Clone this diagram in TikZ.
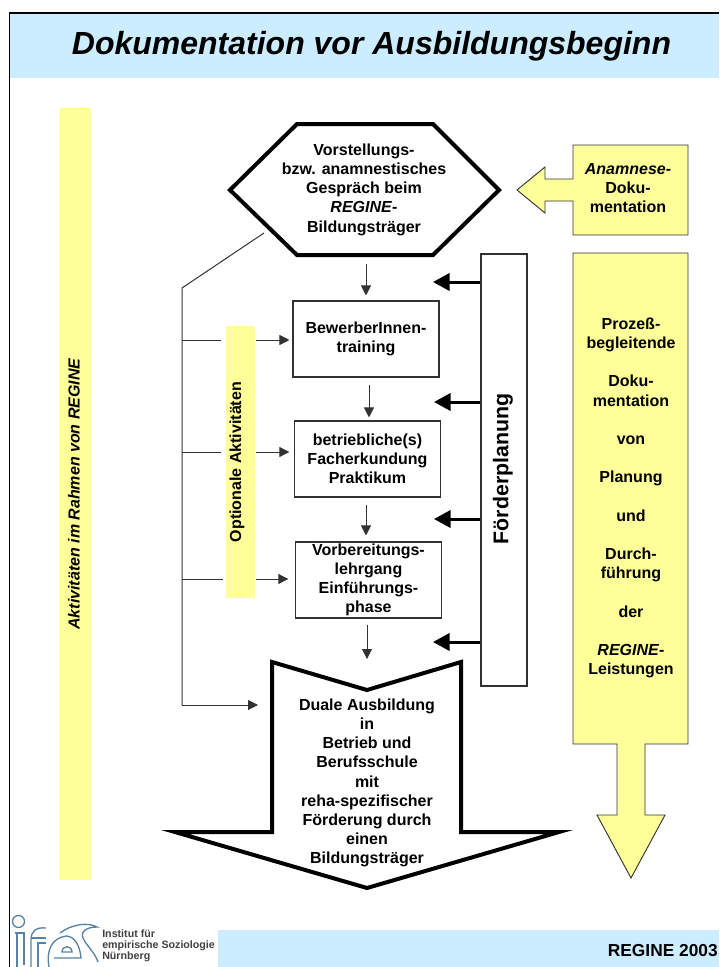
\documentclass[tikz,border=0pt]{standalone}
\usepackage{fontspec}
\setmainfont{Liberation Sans}
\usetikzlibrary{arrows.meta}

\definecolor{bandblue}{RGB}{204,236,255}
\definecolor{paleyellow}{RGB}{255,255,153}
\definecolor{logoblue}{RGB}{88,130,165}
\definecolor{linegray}{RGB}{50,50,50}

\tikzset{
    boxtext/.style={align=center, font=\fontsize{12}{14.4}\selectfont\bfseries, inner sep=0pt},
    stationbox/.style={boxtext, draw=linegray, line width=0.8pt, fill=white, minimum width=109.5pt, minimum height=57pt},
    yellowbar/.style={fill=paleyellow, inner sep=0pt},
    yellowshape/.style={draw=black!80, fill=paleyellow, line width=0.7pt, line join=miter},
    heavyshape/.style={draw=black, fill=white, line width=3pt, line join=miter, miter limit=10},
    flowline/.style={linegray, line width=0.75pt},
    flowarrow/.style={flowline, -{Triangle[length=7.5pt,width=7.5pt]}},
    planarrow/.style={black, line width=2.25pt, -{Triangle[length=12.5pt,width=13pt]}},
    logoline/.style={logoblue, line width=1pt}
}

\begin{document}
\begin{tikzpicture}[x=0.75pt,y=0.75pt,yscale=-1,xscale=1]
    \useasboundingbox (0,0) rectangle (719,967);

    % Bands and frame
    \fill [bandblue] (10,13) rectangle (719,78);
    \fill [bandblue] (218,930) rectangle (719,967);
    \draw [line width=1.2pt] (719,13) -- (9.5,13) -- (9.5,967);
    \node (title) at (371.5,46) [inner sep=0pt, font=\fontsize{24}{30}\selectfont\bfseries\itshape] {Dokumentation vor Ausbildungsbeginn};
    \node (year) [anchor=east, inner sep=0pt, font=\fontsize{13}{14}\selectfont\bfseries] at (718,951) {REGINE 2003};

    % Yellow bars
    \node (rahmenbar) at (75.5,494) [yellowbar, minimum width=23.25pt, minimum height=579pt] {};
    \node [rotate=90, inner sep=0pt, font=\fontsize{12}{14}\selectfont\bfseries\itshape] (rahmentext) at (74,494) {Aktivitäten im Rahmen von REGINE};
    \node (optionalbar) at (240,462) [yellowbar, minimum width=21.75pt, minimum height=204pt] {};
    \node [rotate=90, inner sep=0pt, font=\fontsize{12}{14}\selectfont\bfseries] (optionaltext) at (237,462) {Optionale Aktivitäten};

    % Hexagon
    \draw [heavyshape] (230,190) -- (297,124) -- (433,124) -- (499,190) -- (433,255) -- (297,255) -- cycle;
    \node (gespraech) at (364,189.5) [boxtext, minimum height=98.25pt] {Vorstellungs-\\bzw. anamnestisches\\Gespräch beim\\\textit{REGINE}-\\Bildungsträger};

    % Stations
    \node (training) at (366,339) [stationbox] {BewerberInnen-\\training};
    \node (praktikum) at (367.5,459) [stationbox] {betriebliche(s)\\Facherkundung\\Praktikum};
    \node (lehrgang) at (368.5,580) [stationbox] {Vorbereitungs-\\lehrgang\\Einführungs-\\phase};

    % Dual arrow
    \draw [heavyshape] (272,662) -- (367,690) -- (461,662) -- (461,832) -- (559,832) -- (367,888) -- (175,832) -- (272,832) -- cycle;
    \node (dual) at (367,783) [boxtext] {Duale Ausbildung\\in\\Betrieb und\\Berufsschule\\mit\\reha-spezifischer\\Förderung durch\\einen\\Bildungsträger};

    % Foerderplanung
    \node (foerder) at (504,470) [draw=linegray, fill=white, line width=1pt, minimum width=34.5pt, minimum height=324pt, inner sep=0pt] {};
    \node [rotate=90, inner sep=0pt, font=\fontsize{16}{18}\selectfont\bfseries] (foerdertext) at (503,469) {Förderplanung};

    % Anamnese callout
    \draw [yellowshape] (573,145) -- (688,145) -- (688,235) -- (573,235) -- (573,201) -- (545,201) -- (545,213) -- (517,190) -- (545,167) -- (545,179) -- (573,179) -- cycle;
    \node (anamnese) at (628,188) [boxtext] {\textit{Anamnese}-\\Doku-\\mentation};

    % Process arrow
    \draw [yellowshape] (573,253) -- (688,253) -- (688,744) -- (645,744) -- (645,815) -- (665,815) -- (631,878) -- (597,815) -- (617,815) -- (617,744) -- (573,744) -- cycle;
    \node (prozess) at (631,498) [boxtext] {Prozeß-\\begleitende\\~\\Doku-\\mentation\\~\\von\\~\\Planung\\~\\und\\~\\Durch-\\führung\\~\\der\\~\\\textit{REGINE}-\\Leistungen};

    % Connection
    \coordinate (gespraechout) at (264,233);
    \coordinate (buscorner) at (182,288);
    \coordinate (tapone) at (182,340);
    \coordinate (taptwo) at (182,452);
    \coordinate (tapthree) at (182,579);
    \coordinate (tapfour) at (182,705);
    \coordinate (dualin) at (272,705);
    \draw [flowline] (gespraechout) -- (buscorner) -- (tapfour);
    \draw [flowarrow, shorten >=10.5pt] (tapfour) -- (dualin);

    \draw [flowline, shorten >=3pt] (tapone) -- (tapone -| optionalbar.west);
    \draw [flowline, shorten >=3pt] (taptwo) -- (taptwo -| optionalbar.west);
    \draw [flowline, shorten >=2pt] (tapthree) -- (tapthree -| optionalbar.west);
    \draw [flowarrow, shorten <=1pt, shorten >=2.25pt] (tapone -| optionalbar.east) -- (tapone -| training.west);
    \draw [flowarrow, shorten <=1pt, shorten >=3.5pt] (taptwo -| optionalbar.east) -- (taptwo -| praktikum.west);
    \draw [flowarrow, shorten <=1pt, shorten >=5pt] (tapthree -| optionalbar.east) -- (tapthree -| lehrgang.west);

    \draw [flowarrow, shorten <=6.75pt, shorten >=3.75pt] (gespraech.south -| training.north) -- (training.north);
    \draw [flowarrow, shorten <=5.25pt, shorten >=2.25pt] (training.south) ++(3,0) -- (praktikum.north -| 369,0);
    \draw [flowarrow, shorten <=5.25pt, shorten >=4.5pt] (praktikum.south) ++(-1.5,0) -- (lehrgang.north -| 366,0);
    \draw [flowarrow, shorten <=4.5pt, shorten >=2.25pt] (lehrgang.south -| dual.north) -- (272,662 -| dual.north);

    \coordinate (planone) at (433,282);
    \coordinate (plantwo) at (434,402);
    \coordinate (planthree) at (434,519);
    \coordinate (planfour) at (433,642);
    \draw [planarrow] (foerder.west |- planone) -- (planone);
    \draw [planarrow] (foerder.west |- plantwo) -- (plantwo);
    \draw [planarrow] (foerder.west |- planthree) -- (planthree);
    \draw [planarrow] (foerder.west |- planfour) -- (planfour);

    % Logo
    \draw [logoline] (18.5,921.5) circle [radius=6];
    \draw [logoline] (15,933) -- (24,933) -- (24,965);
    \draw [logoline] (17,933) -- (17,967);
    \draw [logoline] (31,967) -- (31,940) .. controls (31,931) and (36,927) .. (46,928);
    \draw [logoline] (38,967) -- (38,943) -- (46,943);
    \draw [logoline] (31,938) -- (46,938);
    \draw [logoline] (49,967) .. controls (46,950) and (52,938) .. (66,936) .. controls (74,936) and (80,945) .. (81,958) -- (54,958);
    \draw [logoline] (62,952) .. controls (62,945) and (72,945) .. (72,952) -- cycle;
    \draw [logoline] (60,933) .. controls (72,924) and (88,922) .. (97,927) .. controls (86,927) and (79,932) .. (84,940) .. controls (88,947) and (95,953) .. (98,962);
    \node (logotext) [anchor=north west, align=left, inner sep=0pt, text=black!75, font=\fontsize{8}{8.6}\selectfont\bfseries] at (102,929) {Institut für\\empirische Soziologie\\Nürnberg};
\end{tikzpicture}
\end{document}
